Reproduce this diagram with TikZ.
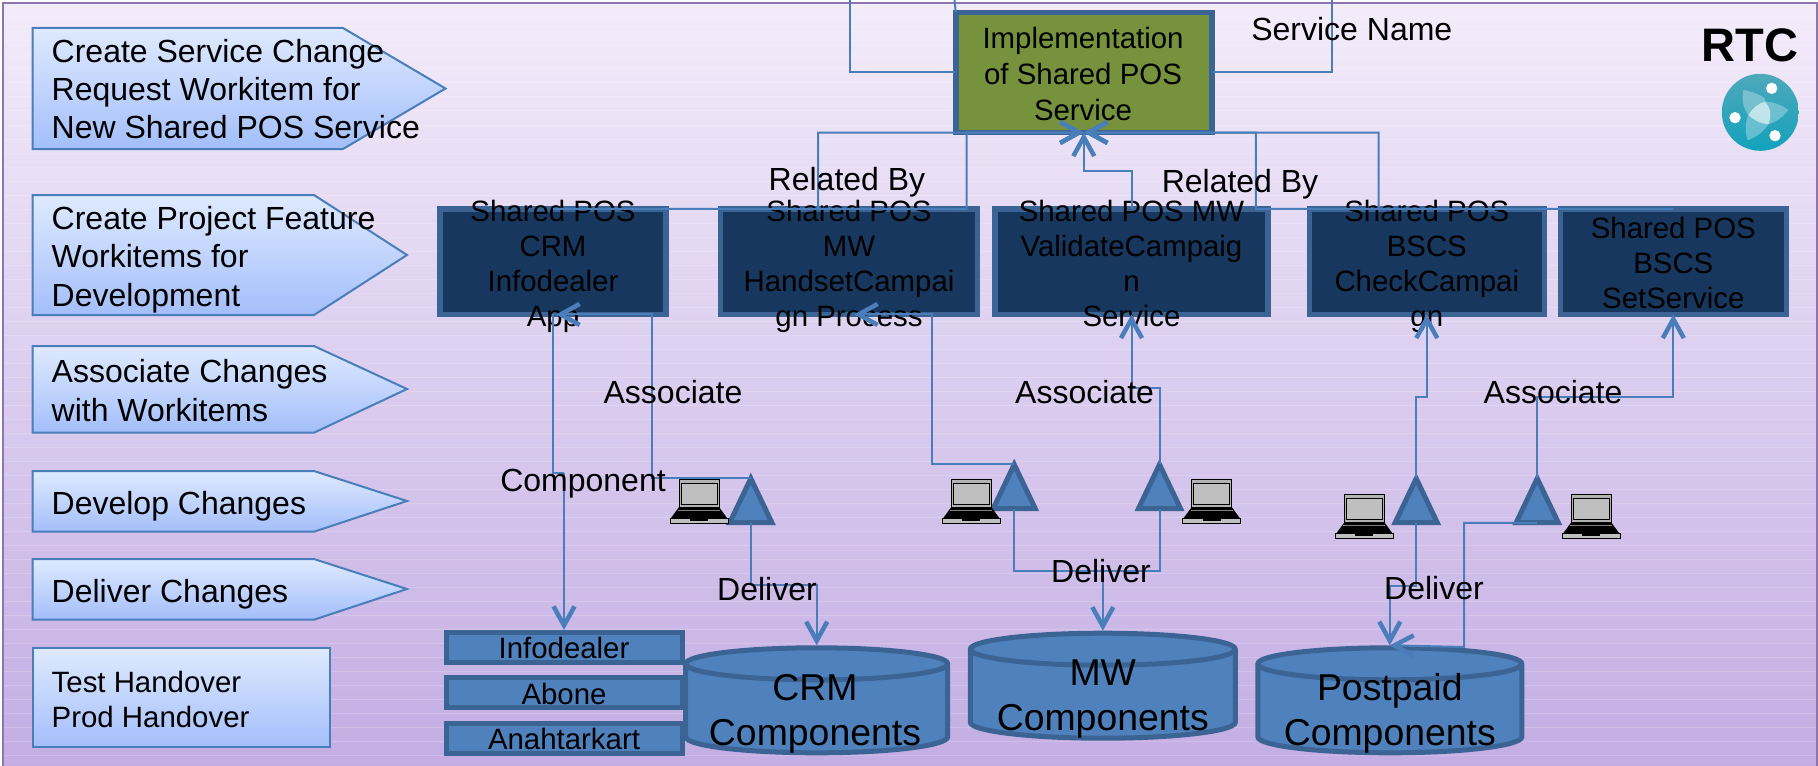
\documentclass[tikz,border=0pt]{standalone}
\usepackage{fontspec}
\setmainfont{Liberation Sans}
\usepackage{xcolor}
\usetikzlibrary{shapes.geometric,arrows.meta}
\definecolor{linkblue}{HTML}{4A7EBB}
\definecolor{edgeblue}{HTML}{3B6494}
\definecolor{fillblue}{HTML}{4F81BD}
\definecolor{darkblue}{HTML}{17375E}
\definecolor{grassgreen}{HTML}{76923C}
\definecolor{bgtop}{HTML}{F3ECFA}
\definecolor{bgbottom}{HTML}{C3ADE3}
\definecolor{framepurple}{HTML}{8E75B0}
\definecolor{steptop}{HTML}{DFEAFF}
\definecolor{stepbottom}{HTML}{A3BEFA}
\definecolor{logotop}{HTML}{4FA8BB}
\definecolor{logobottom}{HTML}{12A2BC}
\tikzset{
  stepshape/.style={draw=linkblue, line width=1pt, top color=steptop, bottom color=stepbottom},
  steptext/.style={align=left, inner sep=0pt, anchor=base west, font=\fontsize{16}{19.15}\selectfont},
  svcbox/.style={draw=edgeblue, fill=darkblue, line width=2.75pt, outer sep=0pt, minimum height=52.75pt},
  svctext/.style={align=center, inner sep=0pt, anchor=base, font=\fontsize{14.7}{17.5}\selectfont},
  compbox/.style={draw=edgeblue, fill=fillblue, line width=2.5pt, minimum width=118pt, minimum height=15pt, inner sep=0pt},
  triag/.style={isosceles triangle, isosceles triangle stretches, shape border rotate=90, draw=edgeblue, fill=fillblue, line width=2.5pt, inner sep=0pt, outer sep=0.15pt, minimum width=21pt, minimum height=22pt},
  dbcyl/.style={rectangle, inner sep=0pt, outer sep=0pt, minimum height=52.5pt},
  dbedge/.style={draw=edgeblue, fill=fillblue, line width=2.5pt},
  dbtext/.style={align=center, inner sep=0pt, anchor=base, font=\fontsize{18.7}{22.5}\selectfont},
  linklabel/.style={inner sep=0pt, anchor=base, font=\fontsize{16}{19}\selectfont},
  link/.style={draw=linkblue, line width=1pt},
  arrowlink/.style={link, -{Straight Barb[length=9.5pt, width=10.5pt, line width=2.25pt]}},
  laptop/.pic={
    \draw[black, line width=0.5pt, fill=gray!60] (9,0) rectangle (49,28);
    \draw[black, line width=0.5pt, fill=gray!50] (11,4) rectangle (47,25);
    \fill[black] (9,28) -- (49,28) -- (57,39) -- (1,39) -- cycle;
    \draw[gray, line width=0.5pt] (8,31) -- (50,31);
    \draw[black, line width=0.5pt, fill=gray!50] (0,39) rectangle (58,44);
    \fill[black] (20,39) rectangle (38,41.5);
  }
}
\begin{document}
\begin{tikzpicture}[x=0.5pt,y=-0.5pt]
  \useasboundingbox (0,0) rectangle (1818,765);
  % Background
  \shade[top color=bgtop, bottom color=bgbottom] (3,3) rectangle (1817,770);
  \foreach \yy in {13,27,...,765} {
    \draw[white, opacity=0.18, line width=0.5pt] (4,\yy) -- (1816,\yy);
  }
  \draw[draw=framepurple, line width=1pt] (3,3) rectangle (1817,770);

  % Steps on the left
  \draw[stepshape] (32.7,28) -- (343,28) -- (445.5,88.5) -- (343,149) -- (32.7,149) -- cycle;
  \draw[stepshape] (32.7,195) -- (314,195) -- (407,255) -- (314,315) -- (32.7,315) -- cycle;
  \draw[stepshape] (32.7,346) -- (314,346) -- (407,389) -- (314,432.7) -- (32.7,432.7) -- cycle;
  \draw[stepshape] (32.7,471) -- (314,471) -- (407,501) -- (314,531.7) -- (32.7,531.7) -- cycle;
  \draw[stepshape] (32.7,559) -- (314,559) -- (407,589) -- (314,619.7) -- (32.7,619.7) -- cycle;
  \draw[stepshape] (32.7,648) rectangle (330,746.7);
  \node[steptext] (stepA) at (51.3,139) {Create Service Change\\Request Workitem for\\New Shared POS Service};
  \node[steptext] (stepB) at (51.3,306) {Create Project Feature\\Workitems for\\Development};
  \node[steptext] (stepC) at (51.3,421) {Associate Changes\\with Workitems};
  \node[steptext] (stepD) at (51.3,514) {Develop Changes};
  \node[steptext] (stepE) at (51.3,602) {Deliver Changes};
  \node[steptext, font=\fontsize{14.7}{17.5}\selectfont] (stepF) at (51.3,727) {Test Handover\\Prod Handover};

  % Service and workitems
  \node[svcbox, fill=grassgreen, minimum width=128pt, minimum height=60pt] (impl) at (1083.8,72.5) {};
  \node[svcbox, minimum width=113pt] (crmbox) at (553,261.7) {};
  \node[svcbox, minimum width=128.5pt] (handset) at (849,261.7) {};
  \node[svcbox, minimum width=136.5pt] (validate) at (1131.5,261.7) {};
  \node[svcbox, minimum width=117.5pt] (check) at (1426.8,261.7) {};
  \node[svcbox, minimum width=113pt] (setserv) at (1673.3,261.7) {};
  \node[svctext, font=\fontsize{14.7}{17.85}\selectfont] (impltext) at (1083,120) {Implementation\\of Shared POS\\Service};
  \node[svctext] (crmtext) at (553,326) {Shared POS\\CRM\\Infodealer\\App};
  \node[svctext] (handsettext) at (849,326) {Shared POS\\MW\\HandsetCampai\\gn Process};
  \node[svctext] (validatetext) at (1131.5,326) {Shared POS MW\\ValidateCampaig\\n\\Service};
  \node[svctext] (checktext) at (1426.8,326) {Shared POS\\BSCS\\CheckCampai\\gn};
  \node[svctext] (settext) at (1673.3,308.5) {Shared POS\\BSCS\\SetService};

  % Change sets
  \node[triag, anchor=lower side] (triA) at (750.8,522.8) {};
  \node[triag, anchor=lower side] (triB) at (1014.2,508.8) {};
  \node[triag, anchor=lower side] (triC) at (1159.5,508.8) {};
  \node[triag, anchor=lower side] (triD) at (1416.2,522.8) {};
  \node[triag, anchor=lower side] (triE) at (1537.2,522.8) {};
  \pic at (670,479) {laptop};
  \pic at (942.3,479) {laptop};
  \pic at (1182.7,479) {laptop};
  \pic at (1335.4,494.3) {laptop};
  \pic at (1562.2,494.3) {laptop};

  % Components
  \node[compbox] (infodealer) at (564,647.5) {};
  \node[compbox] (abone) at (564,692.5) {};
  \node[compbox] (anahtar) at (564,738) {};
  \node[dbcyl, minimum width=131pt] (crmdb) at (816.7,700.3) {};
  \node[dbcyl, minimum width=132.5pt] (mwdb) at (1102.8,685.7) {};
  \node[dbcyl, minimum width=132pt] (postdb) at (1389.8,700.3) {};
  \foreach \dbname/\dbrad in {crmdb/65.5pt,mwdb/66.25pt,postdb/66pt} {
    \draw[dbedge] ([yshift=-8pt]\dbname.north west) arc[start angle=180, end angle=0, x radius=\dbrad, y radius=8pt]
      -- ([yshift=8pt]\dbname.south east) arc[start angle=0, end angle=-180, x radius=\dbrad, y radius=8pt] -- cycle;
    \draw[dbedge, fill=none] ([yshift=-8pt]\dbname.north west) arc[start angle=180, end angle=360, x radius=\dbrad, y radius=8pt];
  }
  \node[svctext] (infotext) at (564,658) {Infodealer};
  \node[svctext] (abonetext) at (564,704) {Abone};
  \node[svctext] (anahtartext) at (564,749) {Anahtarkart};
  \node[dbtext] (crmdbtext) at (815,745) {CRM\\Components};
  \node[dbtext] (mwdbtext) at (1102.8,730) {MW\\Components};
  \node[dbtext] (postdbtext) at (1389.8,745) {Postpaid\\Components};

  % Connectors
  \coordinate (offA) at (850.4,0);
  \coordinate (offB) at (954.5,0);
  \coordinate (offC) at (1332,0);
  \draw[link] (offA) |- (impl.west);
  \draw[link] (offB) -- (impl.north west);
  \draw[link] (offC) |- (impl.east);
  \draw[arrowlink] (crmbox.north) -- (966.5,209) |- (impl.south);
  \draw[arrowlink] (handset.north) -- (818,209) |- (impl.south);
  \draw[arrowlink] (validate.north) |- (1083.8,171) -- (impl.south);
  \draw[arrowlink] (check.north) -- (1378.7,209) |- (impl.south);
  \draw[arrowlink] (setserv.north) -- (1255.8,209) |- (impl.south);
  \draw[arrowlink] (triA.apex) -| (651.8,314.45) -- ([xshift=1.5pt]crmbox.south);
  \draw[link] (crmbox.south) |- (564,473);
  \draw[arrowlink] (564,473) -- (infodealer.north);
  \draw[arrowlink] (triB.apex) -| (932,314.45) -- ([xshift=2.5pt]handset.south);
  \draw[arrowlink] (triC.apex) |- (1131.5,388) -- (validate.south);
  \draw[arrowlink] (triD.apex) |- (1426.8,396.7) -- (check.south);
  \draw[arrowlink] (triE.apex) |- (1673.3,396.7) -- (setserv.south);
  \draw[arrowlink] (triA.lower side) |- (816.7,585.3) -- ([yshift=1.25pt]crmdb.north);
  \draw[arrowlink] (triB.lower side) |- (1102.8,571) -- ([yshift=1.25pt]mwdb.north);
  \draw[link] (triC.lower side) |- (1102.8,571);
  \draw[arrowlink] (triD.lower side) |- (1389.8,586) -- ([yshift=1.25pt]postdb.north);
  \draw[arrowlink] (triE.lower side) -| (1464,647) -- ([yshift=1.25pt]postdb.north);

  % Labels on the connectors
  \node[linklabel] (svcname) at (1351.8,40.7) {Service Name};
  \node[linklabel] (relA) at (847,190) {Related By};
  \node[linklabel] (relB) at (1240,192) {Related By};
  \node[linklabel] (assocA) at (673,403) {Associate};
  \node[linklabel] (assocB) at (1084.6,403) {Associate};
  \node[linklabel] (assocC) at (1553,403) {Associate};
  \node[linklabel] (comptext) at (583,491.7) {Component};
  \node[linklabel] (delA) at (767,600) {Deliver};
  \node[linklabel] (delB) at (1101,582.7) {Deliver};
  \node[linklabel] (delC) at (1434,599) {Deliver};

  % Logo
  \node[linklabel, font=\fontsize{23.5}{27}\bfseries] (rtc) at (1750,62) {RTC};
  \shade[top color=logotop, bottom color=logobottom] (1760.3,112.3) circle (38.5);
  \begin{scope}[shift={(1710,65)},x=0.1667pt,y=-0.1667pt]
    \fill[white, opacity=0.3] (100,75) .. controls (150,85) and (170,100) .. (165,110) .. controls (135,120) and (120,135) .. (115,150) .. controls (98,130) and (95,100) .. (100,75) -- cycle;
    \fill[white, opacity=0.3] (235,135) .. controls (215,120) and (190,110) .. (165,110) .. controls (180,125) and (187,150) .. (175,178) .. controls (200,170) and (220,155) .. (235,135) -- cycle;
    \fill[white, opacity=0.3] (112,225) .. controls (105,200) and (105,170) .. (115,150) .. controls (130,165) and (150,175) .. (175,178) .. controls (160,200) and (135,220) .. (112,225) -- cycle;
    \fill[white, opacity=0.7] (115,150) .. controls (125,130) and (145,115) .. (165,110) .. controls (180,125) and (187,150) .. (175,178) .. controls (150,175) and (130,165) .. (115,150) -- cycle;
    \fill[white] (185,70) circle (17);
    \fill[white] (75,158) circle (17);
    \fill[white] (195,212) circle (17);
  \end{scope}
\end{tikzpicture}
\end{document}
